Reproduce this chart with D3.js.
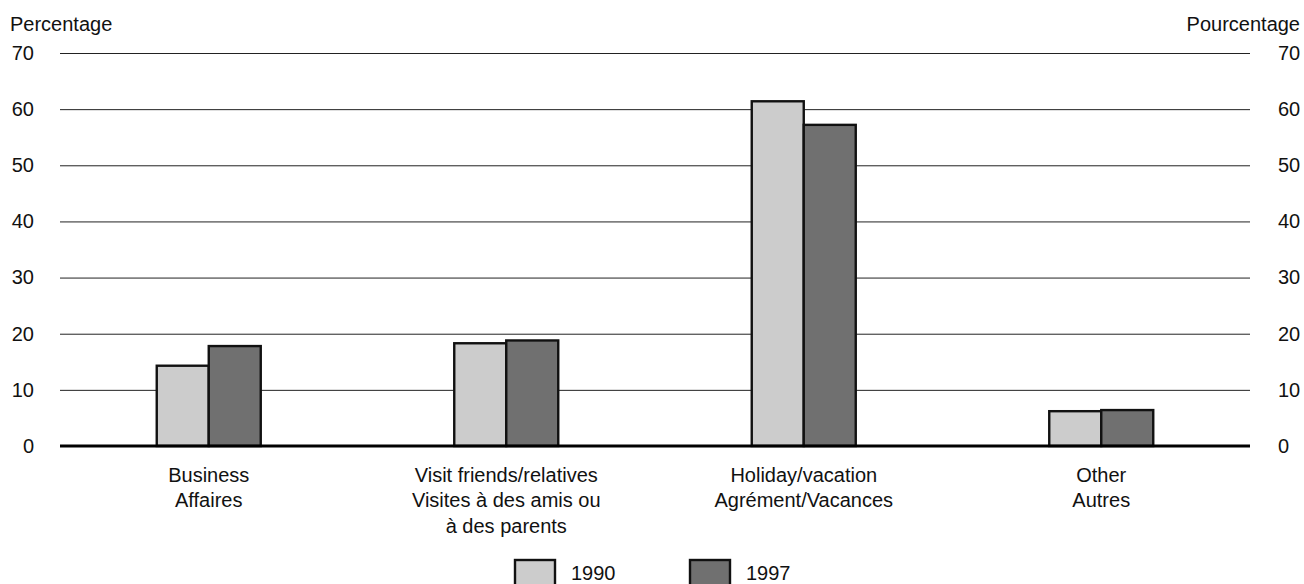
<!DOCTYPE html>
<html>
<head>
<meta charset="utf-8">
<script src="https://cdn.jsdelivr.net/npm/d3@7"></script>
<style>
  html, body { margin: 0; padding: 0; background: #fff; }
  svg { display: block; font-family: "Liberation Sans", Arial, sans-serif; }
</style>
</head>
<body>
<svg id="chart" width="1304" height="584"></svg>
<script>
// Trip purpose shares, 1990 vs 1997
const categories = [
  ["Business", "Affaires"],
  ["Visit friends/relatives", "Visites à des amis ou", "à des parents"],
  ["Holiday/vacation", "Agrément/Vacances"],
  ["Other", "Autres"]
];
const years = ["1990", "1997"];
const values1990 = [14.3, 18.3, 61.4, 6.2];
const values1997 = [17.8, 18.8, 57.2, 6.4];
const yTicks = [0, 10, 20, 30, 40, 50, 60, 70];
const colors = ["#cccccc", "#707070"];

const FONT = 20;
const svg = d3.select("#chart");
const plot = { left: 60, right: 1250, top: 53, bottom: 446 };

const x = d3.scaleBand().domain(d3.range(categories.length)).range([plot.left, plot.right]);
const xs = d3.scaleBand().domain(years).range([-52, 52]);
const y = d3.scaleLinear().domain([0, 70]).range([plot.bottom, plot.top]);

// gridlines
svg.append("g").selectAll("line").data(yTicks.filter(d => d > 0)).join("line")
  .attr("x1", plot.left).attr("x2", plot.right)
  .attr("y1", d => y(d) + 0.5).attr("y2", d => y(d) + 0.5)
  .attr("stroke", "#222").attr("stroke-width", 1);

// left and right tick labels
const leftAxis = d3.axisLeft(y).tickValues(yTicks).tickSize(0).tickPadding(0);
const gl = svg.append("g").attr("transform", "translate(34,0)").call(leftAxis);
gl.select(".domain").remove();
gl.selectAll("text").attr("font-size", FONT).attr("fill", "#111")
  .attr("font-family", "Liberation Sans, Arial, sans-serif");

const rightAxis = d3.axisRight(y).tickValues(yTicks).tickSize(0).tickPadding(0);
const gr = svg.append("g").attr("transform", "translate(1278,0)").call(rightAxis);
gr.select(".domain").remove();
gr.selectAll("text").attr("font-size", FONT).attr("fill", "#111")
  .attr("font-family", "Liberation Sans, Arial, sans-serif");

// axis titles
svg.append("text").attr("x", 10).attr("y", 31).attr("font-size", FONT).attr("fill", "#111").text("Percentage");
svg.append("text").attr("x", 1300).attr("y", 31).attr("font-size", FONT).attr("fill", "#111")
  .attr("text-anchor", "end").text("Pourcentage");

// bars
const series = [values1990, values1997];
const groups = svg.append("g").selectAll("g").data(categories).join("g")
  .attr("transform", (d, i) => `translate(${x(i) + x.bandwidth() / 2},0)`);
groups.selectAll("rect").data((d, i) => years.map((yr, k) => ({ yr, k, v: series[k][i] }))).join("rect")
  .attr("x", d => xs(d.yr))
  .attr("width", xs.bandwidth())
  .attr("y", d => y(d.v))
  .attr("height", d => y(0) - y(d.v))
  .attr("fill", d => colors[d.k])
  .attr("stroke", "#111").attr("stroke-width", 2.4);

// zero baseline
svg.append("line").attr("x1", plot.left).attr("x2", plot.right)
  .attr("y1", y(0)).attr("y2", y(0))
  .attr("stroke", "#000").attr("stroke-width", 3);

// category labels
groups.append("text").attr("text-anchor", "middle").attr("font-size", FONT).attr("fill", "#111")
  .selectAll("tspan").data(d => d).join("tspan")
  .attr("x", 0).attr("y", (d, j) => 481.5 + j * 25.5).text(d => d);

// legend
const legend = svg.append("g");
const lx = [515, 690];
years.forEach((yr, k) => {
  legend.append("rect").attr("x", lx[k]).attr("y", 560).attr("width", 40).attr("height", 30)
    .attr("fill", colors[k]).attr("stroke", "#111").attr("stroke-width", 2.4);
  legend.append("text").attr("x", lx[k] + 56).attr("y", 579.5).attr("font-size", FONT).attr("fill", "#111").text(yr);
});
</script>
</body>
</html>
